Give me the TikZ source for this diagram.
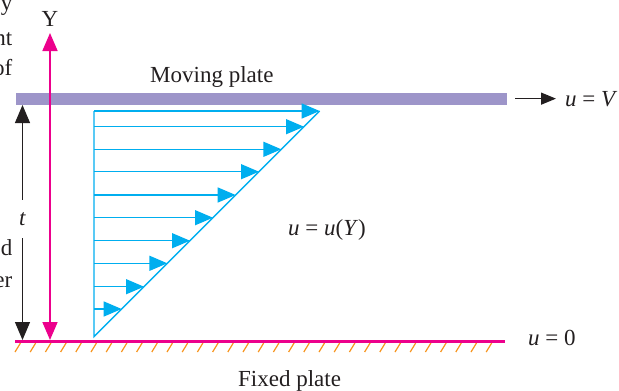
\documentclass[tikz,border=0pt]{standalone}
\usepackage{fontspec}
\setmainfont{Liberation Serif}
\usetikzlibrary{arrows.meta}
\definecolor{plate}{HTML}{9D95C9}
\definecolor{mag}{HTML}{EC008C}
\definecolor{cyanb}{HTML}{00AEEF}
\definecolor{orng}{HTML}{F7941D}
\definecolor{ink}{HTML}{231F20}
\begin{document}
\begin{tikzpicture}[x=1pt,y=-1pt,
  lbl/.style={font=\fontsize{23}{27}\selectfont, inner sep=0pt, text=ink},
  vel/.style={draw=cyanb, line width=1.4pt, -{Triangle[length=18pt,width=15pt]}},
  prof/.style={draw=cyanb, line width=1.4pt},
  axis/.style={draw=mag, line width=1.8pt, {Triangle[length=18pt,width=15pt]}-{Triangle[length=18pt,width=15pt]}},
  dim/.style={draw=ink, line width=1.2pt, -{Triangle[length=18pt,width=15pt]}},
  hatch/.style={draw=orng, line width=1.2pt},
  fixedline/.style={draw=mag, line width=2.6pt}]
\useasboundingbox (0,0) rectangle (619,391);
\clip (0,0) rectangle (619,391);
% cut-off text fragments at the left edge
\node[lbl, anchor=base east] (f1) at (12.5,10.5) {y};
\node[lbl, anchor=base east] (f2) at (12.5,45) {nt};
\node[lbl, anchor=base east] (f3) at (12.5,75) {of};
\node[lbl, anchor=base east] (f4) at (12.5,255) {d};
\node[lbl, anchor=base east] (f5) at (12.5,287) {er};
% moving plate
\node[fill=plate, minimum width=491pt, minimum height=11.5pt, inner sep=0pt, anchor=west] (mp) at (15.5,99.2) {};
\node[lbl, anchor=base west] (mpl) at (150,82.7) {Moving plate};
\node[lbl, anchor=base west] (uV) at (565,106) {\textit{u} = \textit{V}};
\draw[draw=ink, line width=1.4pt, -{Triangle[length=15pt,width=12pt]}, shorten <=8.5pt, shorten >=9pt] (mp.east |- uV.west) -- (uV.west);
% fixed plate
\coordinate (fl) at (15,341.7);
\coordinate (fr) at (505,341.7);
\foreach \i in {0,...,31} { \draw[hatch] ({15+15.2*\i},352) -- ++(5.5,-9); }
\draw[fixedline] (fl) -- (fr);
\node[lbl, anchor=base west] (fpl) at (238,386.7) {Fixed plate};
\node[lbl, anchor=base west] (u0) at (528,345) {\textit{u} = 0};
% Y axis
\coordinate (yb) at (50,340);
\coordinate (yt) at (50,33);
\draw[axis] (yb) -- (yt);
\node[lbl] (Ylab) at (50,19) {Y};
% thickness t
\node[lbl, minimum height=38pt] (t) at (22.5,219) {\textit{t}};
\coordinate (tt) at (22.5,105);
\coordinate (tb) at (22.5,340);
\draw[dim] (t) -- (tt);
\draw[dim] (t) -- (tb);
% velocity profile
\coordinate (A) at (94,111);
\coordinate (B) at (94,336.7);
\coordinate (C) at (319.7,111);
\draw[prof] (A) -- (B) -- (C);
\foreach \y [count=\i] in {111,126.7,149.3,171.7,195,217.7,240.7,263.3,286.7,309} {
  \coordinate (L\i) at (94,\y);
  \coordinate (R\i) at ({94+336.7-\y},\y);
  \draw[vel] (L\i) -- (R\i);
}
\node[lbl, anchor=base west] (uu) at (288,235) {\textit{u} = \textit{u}(\textit{Y})};
\end{tikzpicture}
\end{document}
